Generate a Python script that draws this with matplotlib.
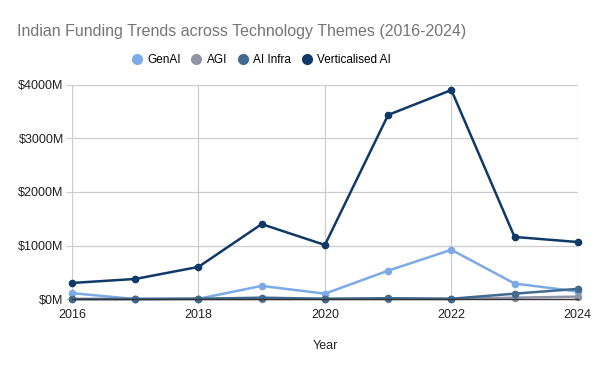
import numpy as np
import matplotlib
matplotlib.use("Agg")
import matplotlib.pyplot as plt
from matplotlib.lines import Line2D

plt.rcParams["font.family"] = ["Liberation Sans", "DejaVu Sans"]

years = [2016, 2017, 2018, 2019, 2020, 2021, 2022, 2023, 2024]
genai = [110, 0, 5, 245, 100, 530, 920, 290, 140]
agi = [0, 0, 0, 0, 0, 0, 0, 25, 45]
ai_infra = [0, 0, 5, 25, 5, 15, 5, 100, 190]
verticalised = [300, 375, 600, 1400, 1010, 3440, 3905, 1160, 1065]

series_names = ["GenAI", "AGI", "AI Infra", "Verticalised AI"]
series_colors = ["#7CAAE6", "#9095A6", "#406A8F", "#0F3A68"]

fig = plt.figure(figsize=(6, 3.71), dpi=100)
ax = fig.add_axes([0.12, 0.194, 0.843, 0.577])

for vals, name, col in zip([genai, agi, ai_infra, verticalised], series_names, series_colors):
    ax.plot(years, vals, "-o", color=col, linewidth=1.8, markersize=4.5,
            label=name, zorder=3, clip_on=False)

ax.set_xlim(2016, 2024)
ax.set_ylim(0, 4000)
ax.set_xticks([2016, 2018, 2020, 2022, 2024])
ax.set_yticks([0, 1000, 2000, 3000, 4000])
ax.set_yticklabels([f"${v}M" for v in [0, 1000, 2000, 3000, 4000]])
ax.grid(True, color="#CCCCCC", linewidth=0.9, zorder=0)
for s in ["top", "right", "left"]:
    ax.spines[s].set_visible(False)
ax.spines["bottom"].set_color("#333333")
ax.spines["bottom"].set_linewidth(1.0)
ax.spines["bottom"].set_zorder(4)
ax.tick_params(axis="y", length=4, color="#CCCCCC", labelsize=9, labelcolor="#222222", pad=2)
ax.tick_params(axis="x", length=0, labelsize=9, labelcolor="#222222", pad=7)
ax.set_xlabel("Year", fontsize=9, color="#222222", labelpad=14)

fig.text(0.029, 0.916, "Indian Funding Trends across Technology Themes (2016-2024)",
         fontsize=11.5, color="#757575", ha="left", va="center")

handles = [Line2D([0], [0], marker="o", linestyle="", color=c, markersize=7)
           for c in series_colors]
fig.legend(handles, series_names, loc="center", bbox_to_anchor=(0.435, 0.838),
           ncol=4, frameon=False, fontsize=8.5, handletextpad=0.4, columnspacing=0.8,
           handlelength=1.0)

fig.savefig("out.png", dpi=100, facecolor="white")
